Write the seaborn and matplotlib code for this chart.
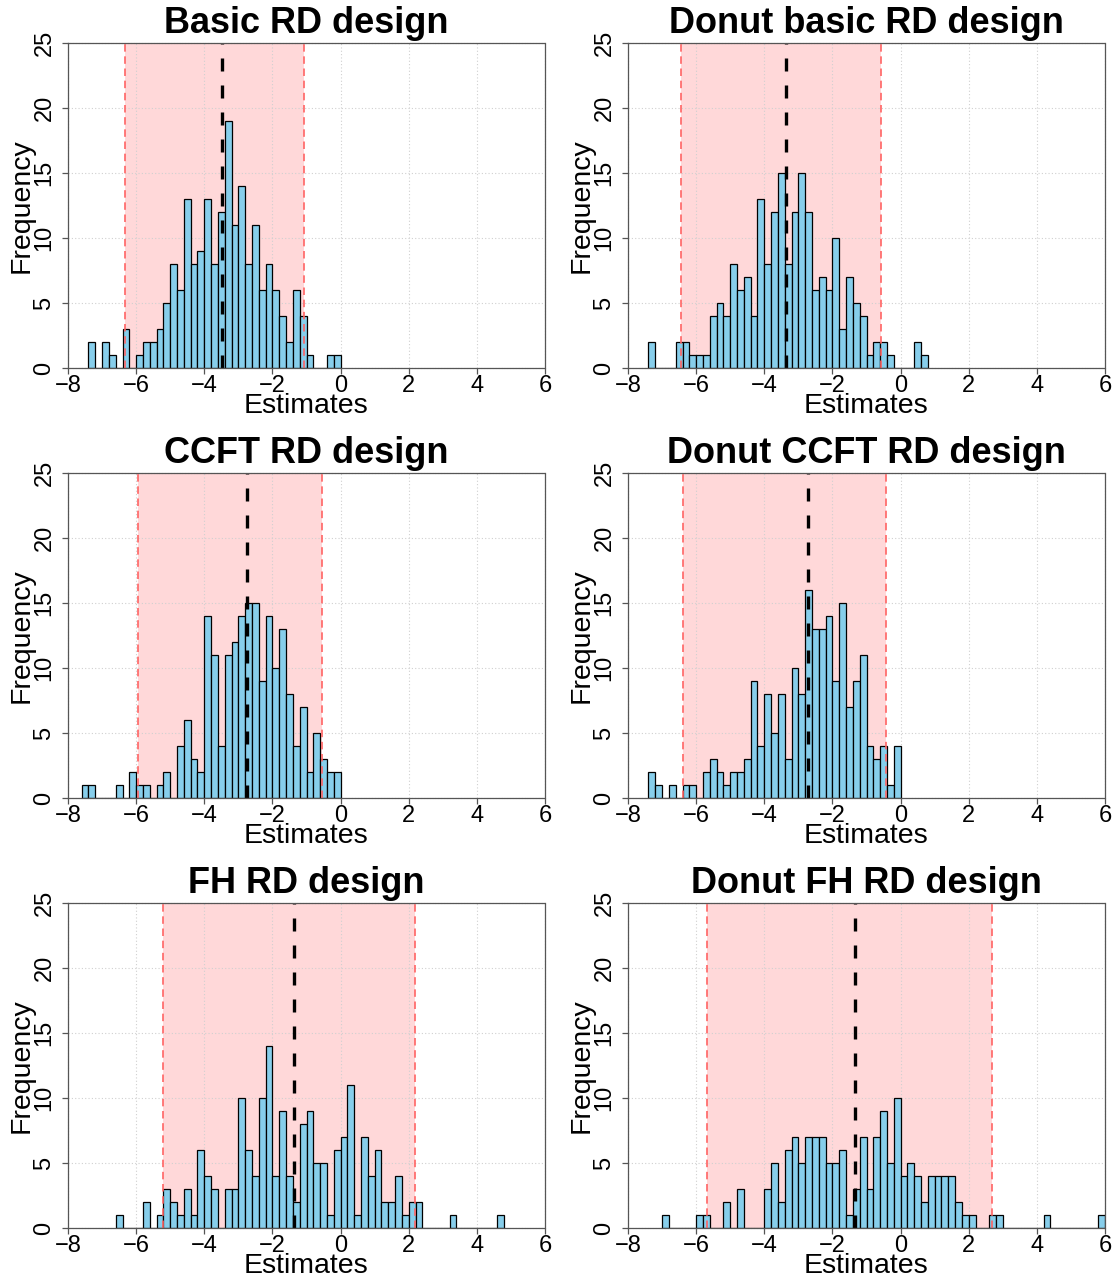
import numpy as np
import pandas as pd
import matplotlib
matplotlib.use("Agg")
import matplotlib.pyplot as plt
import seaborn as sns

# ---------------- data (bin counts, bin width 0.2) ----------------
titles = ["Basic RD design", "Donut basic RD design",
          "CCFT RD design", "Donut CCFT RD design",
          "FH RD design", "Donut FH RD design"]

bin_width = 0.2

basic_start = -7.4
basic_counts = [2, 0, 2, 1, 0, 3, 0,
                1, 2, 2, 3, 5, 8, 6, 13, 8, 9,
                13, 8, 12, 19, 11, 14, 8, 11, 6, 8,
                6, 4, 2, 6, 4, 1, 0, 0, 1, 1]

donut_basic_start = -7.4
donut_basic_counts = [2, 0, 0, 0, 2, 2, 1,
                      1, 1, 4, 5, 4, 8, 6, 7, 4, 13,
                      8, 12, 15, 8, 12, 15, 12, 6, 7, 6,
                      10, 3, 7, 5, 4, 1, 2, 2, 1, 0,
                      0, 0, 2, 1]

ccft_start = -7.6
ccft_counts = [1, 1, 0, 0, 0, 1, 0, 2,
               1, 1, 0, 1, 2, 0, 4, 6, 3, 2,
               14, 11, 4, 11, 12, 14, 15, 15, 9, 14,
               10, 13, 8, 4, 7, 2, 5, 3, 2, 2]

donut_ccft_start = -7.4
donut_ccft_counts = [2, 1, 0, 1, 0, 1, 1,
                     0, 2, 3, 2, 1, 2, 2, 3, 9, 4,
                     8, 5, 8, 3, 10, 8, 16, 13, 13, 14,
                     9, 15, 7, 9, 11, 4, 3, 4, 1, 4]

fh_start = -6.6
fh_counts = [1, 0, 0,
             0, 2, 0, 1, 3, 2, 1, 3, 1, 6,
             4, 3, 0, 3, 3, 10, 6, 4, 10, 14,
             4, 9, 4, 2, 8, 9, 5, 5, 1, 6,
             7, 11, 1, 7, 4, 6, 2, 2, 4, 1,
             2, 2, 0, 0, 0, 0, 1, 0, 0, 0,
             0, 0, 0, 1]

donut_fh_start = -7.0
donut_fh_counts = [1, 0, 0, 0, 0,
                   1, 1, 0, 0, 2, 0, 3, 0, 0, 0,
                   3, 5, 2, 6, 7, 5, 7, 7, 7, 5,
                   5, 6, 1, 3, 7, 3, 7, 9, 5, 10,
                   4, 5, 4, 2, 4, 4, 4, 4, 2, 1,
                   1, 0, 0, 1, 1, 0, 0, 0, 0, 0,
                   0, 1, 0, 0, 0, 0, 0, 0, 0, 1]

starts = [basic_start, donut_basic_start, ccft_start,
          donut_ccft_start, fh_start, donut_fh_start]
counts_all = [basic_counts, donut_basic_counts, ccft_counts,
              donut_ccft_counts, fh_counts, donut_fh_counts]

# interval bounds (red dashed) and central estimate (black dashed)
ci_low = [-6.32, -6.43, -5.95, -6.38, -5.20, -5.69]
ci_high = [-1.06, -0.57, -0.54, -0.44, 2.19, 2.69]
center = [-3.47, -3.35, -2.75, -2.72, -1.38, -1.33]

x_ticks = [-8, -6, -4, -2, 0, 2, 4, 6]
y_ticks = [0, 5, 10, 15, 20, 25]

# ---------------- style ----------------
sns.set_theme(style="white")
plt.rcParams["font.family"] = ["Liberation Sans", "DejaVu Sans"]
plt.rcParams["axes.unicode_minus"] = True
plt.rcParams["text.color"] = "black"
plt.rcParams["axes.labelcolor"] = "black"
plt.rcParams["xtick.color"] = "black"
plt.rcParams["ytick.color"] = "black"

W, H = 1120, 1280
fig = plt.figure(figsize=(W / 100, H / 100), dpi=100)

lefts = [68, 628]
tops = [43, 473, 903]
aw, ah = 477, 325

for i in range(6):
    r, c = divmod(i, 2)
    l = lefts[c]
    t = tops[r]
    ax = fig.add_axes([l / W, 1 - (t + ah) / H, aw / W, ah / H])

    counts = np.array(counts_all[i], dtype=int)
    n = len(counts)
    edges = np.round(starts[i] + bin_width * np.arange(n + 1), 2)
    centers = (edges[:-1] + edges[1:]) / 2
    est = np.repeat(centers, counts)
    df = pd.DataFrame({"est": est})

    # shaded interval
    ax.axvspan(ci_low[i], ci_high[i], color="#FFD8D9", zorder=0, lw=0)
    # grid
    for xv in x_ticks:
        ax.axvline(xv, color="#D0D0D0", lw=0.8, ls=(0, (1, 2)), zorder=1)
    for yv in y_ticks:
        ax.axhline(yv, color="#D0D0D0", lw=0.8, ls=(0, (1, 2)), zorder=1)

    sns.histplot(data=df, x="est", bins=list(edges), ax=ax,
                 color="#87CEEB", edgecolor="black", linewidth=0.9,
                 alpha=1, zorder=3)

    ax.axvline(ci_low[i], color="#FF6464", lw=1.2, ls=(0, (4.5, 2.8)), zorder=4)
    ax.axvline(ci_high[i], color="#FF6464", lw=1.2, ls=(0, (4.5, 2.8)), zorder=4)
    ax.axvline(center[i], color="black", lw=2.4, ls=(0, (3.9, 4.2)), zorder=5)

    ax.set_xlim(-8, 6)
    ax.set_ylim(0, 25)
    ax.set_xticks(x_ticks)
    ax.set_yticks(y_ticks)
    ax.set_xticklabels([f"\u2212{abs(v)}" if v < 0 else str(v) for v in x_ticks],
                       fontsize=17)
    ax.set_yticklabels([str(v) for v in y_ticks], fontsize=17,
                       rotation=90, va="center", ha="right")
    ax.tick_params(axis="both", direction="out", length=4, width=0.9,
                   color="#555555", left=True, bottom=True)
    ax.tick_params(axis="x", pad=1)
    ax.tick_params(axis="y", pad=5)
    ax.grid(False)

    for sp in ax.spines.values():
        sp.set_visible(True)
        sp.set_color("#555555")
        sp.set_linewidth(0.9)
        sp.set_linestyle((0, (1.4, 0.9)))
        sp.set_zorder(6)

    ax.set_xlabel("Estimates", fontsize=20.5, labelpad=-3)
    ax.set_ylabel("Frequency", fontsize=20.5, labelpad=-1)
    ax.set_title(titles[i], fontsize=26, fontweight="bold", pad=7)

fig.savefig("out.png", dpi=100)
